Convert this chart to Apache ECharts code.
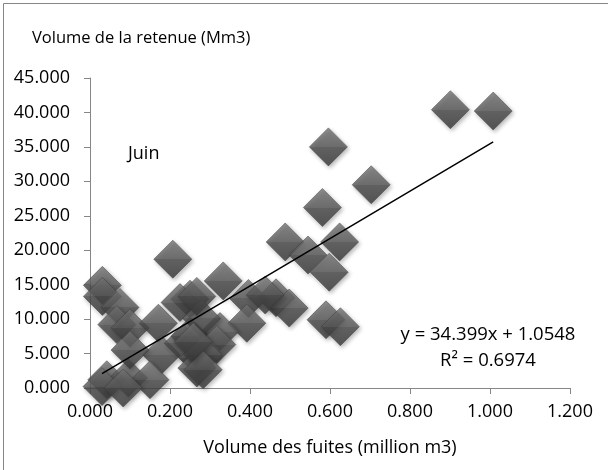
<!DOCTYPE html>
<html>
<head>
<meta charset="utf-8">
<script src="https://cdn.jsdelivr.net/npm/echarts@6/dist/echarts.min.js"></script>
<style>
html,body{margin:0;padding:0;background:#fff;}
#chart{width:608px;height:470px;}
</style>
</head>
<body>
<div id="chart"></div>
<script>
// Volume des fuites (million m3)
var fuites = [0.901, 1.008, 0.596, 0.703, 0.581, 0.488, 0.624, 0.545, 0.598, 0.207,
  0.465, 0.498, 0.590, 0.626,
  0.031, 0.031, 0.075, 0.067, 0.100, 0.171, 0.250, 0.225, 0.179, 0.233, 0.271,
  0.042, 0.096, 0.150, 0.030, 0.083, 0.100, 0.250, 0.267,
  0.333, 0.396, 0.438, 0.392, 0.325, 0.279, 0.317, 0.283, 0.283, 0.267, 0.258];
// Volume de la retenue (Mm3)
var retenue = [40.4, 40.2, 35.0, 29.5, 26.2, 21.2, 21.2, 19.3, 16.8, 18.7,
  13.1, 11.6, 9.9, 8.9,
  14.9, 13.3, 11.7, 9.2, 8.7, 9.4, 12.9, 12.4, 4.8, 6.5, 4.35,
  1.2, 1.45, 1.2, 0.2, 0.0, 5.5, 7.5, 2.9,
  15.55, 13.0, 13.5, 9.4, 8.2, 10.1, 6.3, 4.8, 2.65, 13.3, 6.7];
var slope = 34.399, intercept = 1.0548, r2 = '0.6974';
var monthLabel = 'Juin';
var xTicks = {min: 0, max: 1.2, interval: 0.2};
var yTicks = {min: 0, max: 45, interval: 5};

var points = fuites.map(function (x, i) { return [x, retenue[i]]; });
var xmin = Math.min.apply(null, fuites), xmax = Math.max.apply(null, fuites);
var trend = [[xmin, slope * xmin + intercept], [xmax, slope * xmax + intercept]];

var font = 'Open Sans';
var chart = echarts.init(document.getElementById('chart'), null, {renderer: 'canvas'});
chart.setOption({
  animation: false,
  backgroundColor: '#fff',
  grid: {left: 90, right: 38, top: 78, bottom: 82},
  xAxis: {
    type: 'value', min: xTicks.min, max: xTicks.max, interval: xTicks.interval,
    name: 'Volume des fuites (million m3)', nameLocation: 'middle', nameGap: 51,
    nameTextStyle: {fontFamily: font, fontSize: 18, color: '#000'},
    axisLine: {show: true, lineStyle: {color: '#868686', width: 1}},
    axisTick: {show: true, inside: false, length: 6, lineStyle: {color: '#868686'}},
    axisLabel: {fontFamily: font, fontSize: 18, color: '#000', margin: 15,
      formatter: function (v) { return v.toFixed(3); }},
    splitLine: {show: false}
  },
  yAxis: {
    type: 'value', min: yTicks.min, max: yTicks.max, interval: yTicks.interval,
    axisLine: {show: true, lineStyle: {color: '#868686', width: 1}},
    axisTick: {show: true, inside: false, length: 6, lineStyle: {color: '#868686'}},
    axisLabel: {fontFamily: font, fontSize: 18, color: '#000', margin: 20,
      formatter: function (v) { return v.toFixed(3); }},
    splitLine: {show: false}
  },
  graphic: [
    {type: 'rect', left: 1, top: 1, shape: {width: 605, height: 467},
      style: {fill: 'none', stroke: '#868686', lineWidth: 1}, silent: true},
    {type: 'text', left: 32, top: 30, style: {text: 'Volume de la retenue (Mm3)',
      font: '16.5px "Open Sans"', fill: '#000'}},
    {type: 'text', left: 128, top: 145, style: {text: monthLabel,
      font: '18px "Open Sans"', fill: '#000'}},
    {type: 'text', x: 488, y: 335, style: {text: 'y = ' + slope + 'x + ' + intercept,
      font: '18.5px "Open Sans"', fill: '#000', align: 'center', verticalAlign: 'middle'}},
    {type: 'text', x: 488, y: 361, style: {text: 'R\u00b2 = ' + r2,
      font: '18.5px "Open Sans"', fill: '#000', align: 'center', verticalAlign: 'middle'}}
  ],
  series: [
    {
      type: 'scatter', data: points, symbol: 'diamond', symbolSize: 38,
      itemStyle: {
        color: {type: 'linear', x: 0, y: 0, x2: 0, y2: 1, colorStops: [
          {offset: 0, color: '#767676'}, {offset: 0.5, color: '#595959'},
          {offset: 0.5, color: '#4b4b4b'}, {offset: 1, color: '#383838'}]},
        borderColor: '#3a3a3a', borderWidth: 0.6,
        shadowBlur: 4, shadowColor: 'rgba(0,0,0,0.35)', shadowOffsetX: 1.5, shadowOffsetY: 2
      },
      z: 2
    },
    {
      type: 'line', data: trend, symbol: 'none', silent: true,
      lineStyle: {color: '#000', width: 1.5}, z: 3
    }
  ]
});
</script>
</body>
</html>
